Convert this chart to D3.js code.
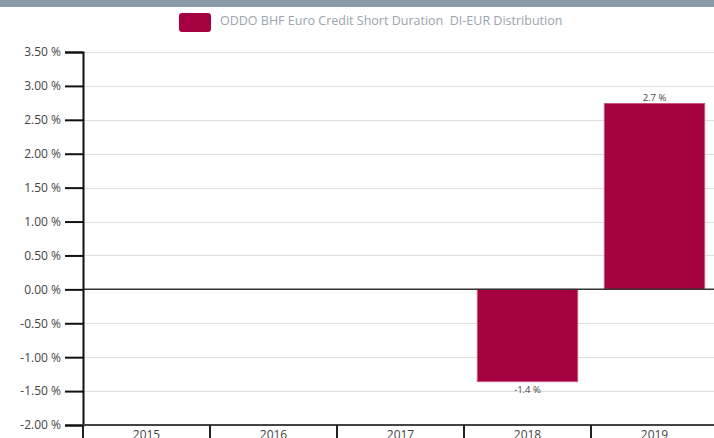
<!DOCTYPE html>
<html>
<head>
<meta charset="utf-8">
<script src="https://cdn.jsdelivr.net/npm/d3@7"></script>
<style>
  body { margin: 0; background: #fff; }
  svg { display: block; font-family: "Open Sans", sans-serif; }
</style>
</head>
<body>
<div id="container"></div>
<script>
let w = 714;
let h = 438;

// data
let years = ["2015", "2016", "2017", "2018", "2019"];
let values = [null, null, null, -1.36, 2.74];
let seriesName = "ODDO BHF Euro Credit Short Duration  DI-EUR Distribution";
let yTicks = [3.5, 3.0, 2.5, 2.0, 1.5, 1.0, 0.5, 0.0, -0.5, -1.0, -1.5, -2.0];

let barColor = "#a5003f";

let viz = d3.select("#container").append("svg")
  .attr("width", w)
  .attr("height", h);

// grey header strip
viz.append("rect").attr("x", 0).attr("y", 0).attr("width", w).attr("height", 7).attr("fill", "#8a9ba8");

// legend
let legend = viz.append("g").attr("transform", "translate(179, 13)");
legend.append("rect").attr("width", 32).attr("height", 19).attr("rx", 3).attr("fill", barColor);
legend.append("text").attr("x", 41).attr("y", 8).attr("dy", "0.35em")
  .style("white-space", "pre")
  .attr("font-size", 12.5).attr("fill", "#98a4ae").text(seriesName);

let plotLeft = 83, plotRight = 718, plotTop = 52, plotBottom = 425;

let xScale = d3.scaleBand().domain(years).range([plotLeft, plotRight]).paddingInner(0.21).paddingOuter(0.105);
let yScale = d3.scaleLinear().domain([-2, 3.5]).range([plotBottom, plotTop]);

// gridlines
viz.append("g").selectAll("line").data(yTicks.filter(d => d !== 0 && d !== -2)).join("line")
  .attr("x1", plotLeft).attr("x2", w)
  .attr("y1", d => Math.round(yScale(d)) + 0.5).attr("y2", d => Math.round(yScale(d)) + 0.5)
  .attr("stroke", "#dedede").attr("stroke-width", 1);

// bars
let barData = years.map((y, i) => ({ year: y, value: values[i] })).filter(d => d.value !== null);
viz.append("g").selectAll("rect").data(barData).join("rect")
  .attr("x", d => xScale(d.year))
  .attr("width", xScale.bandwidth())
  .attr("y", d => yScale(Math.max(0, d.value)))
  .attr("height", d => Math.abs(yScale(d.value) - yScale(0)))
  .attr("fill", barColor)
  .attr("stroke", "#c9547f").attr("stroke-width", 1);

// bar labels
viz.append("g").selectAll("text").data(barData).join("text")
  .attr("x", d => xScale(d.year) + xScale.bandwidth() / 2)
  .attr("y", d => d.value >= 0 ? yScale(d.value) - 3 : yScale(d.value) + 11)
  .attr("text-anchor", "middle").attr("font-size", 9.5).attr("fill", "#444")
  .text(d => d.value.toFixed(1) + " %");

// zero line
viz.append("line").attr("x1", plotLeft).attr("x2", w)
  .attr("y1", yScale(0)).attr("y2", yScale(0))
  .attr("stroke", "#333").attr("stroke-width", 1.5);

// y axis
let yAxis = d3.axisLeft(yScale).tickValues(yTicks).tickSize(18).tickPadding(4)
  .tickFormat(d => d.toFixed(2) + " %");
let yAxisGroup = viz.append("g").attr("transform", "translate(" + plotLeft + ",0)").call(yAxis);
yAxisGroup.select(".domain").attr("stroke", "#111").attr("stroke-width", 2);
yAxisGroup.selectAll(".tick line").attr("stroke", "#111").attr("stroke-width", 2);
yAxisGroup.selectAll(".tick text").attr("font-size", 12).attr("fill", "#444")
  .attr("font-family", "Open Sans, sans-serif");

// x axis
let xAxisGroup = viz.append("g").attr("transform", "translate(0," + plotBottom + ")");
xAxisGroup.append("line").attr("x1", plotLeft).attr("x2", w).attr("stroke", "#444").attr("stroke-width", 2);
let step = xScale.step();
let bounds = d3.range(years.length + 1).map(i => plotLeft + i * step);
xAxisGroup.selectAll("line.sep").data(bounds).join("line").attr("class", "sep")
  .attr("x1", d => d).attr("x2", d => d).attr("y1", 0).attr("y2", 14)
  .attr("stroke", "#222").attr("stroke-width", 2);
xAxisGroup.selectAll("text").data(years).join("text")
  .attr("x", d => xScale(d) + xScale.bandwidth() / 2)
  .attr("y", 14).attr("text-anchor", "middle")
  .attr("font-size", 12).attr("fill", "#444").text(d => d);
</script>
</body>
</html>
